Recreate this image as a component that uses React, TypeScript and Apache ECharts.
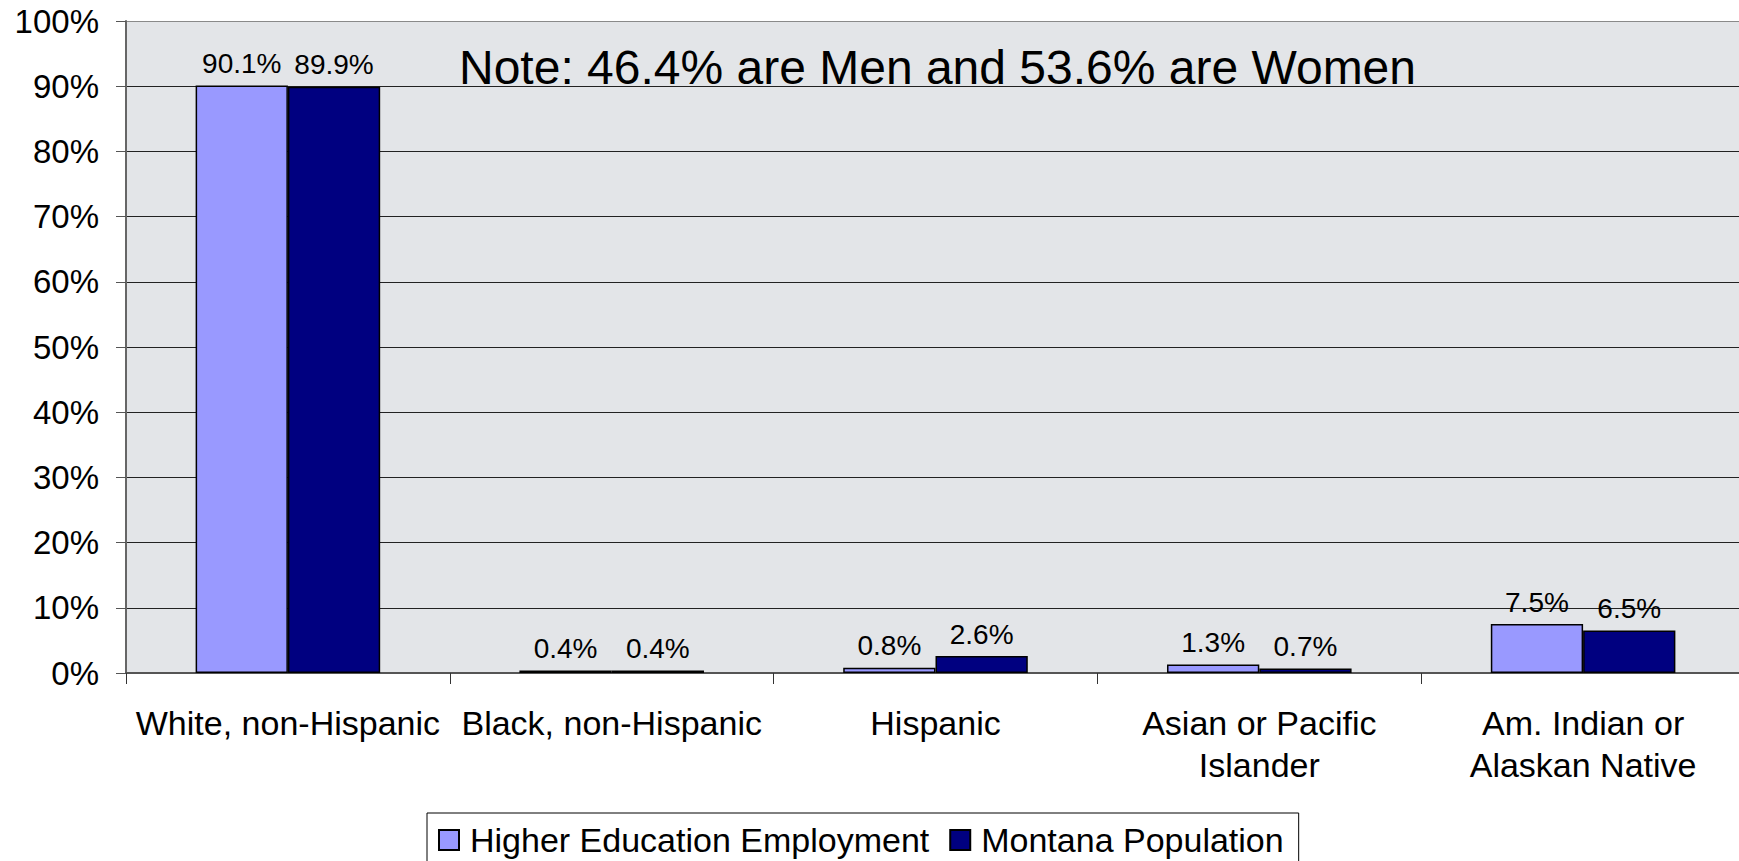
import React, { useEffect, useRef } from "react";
import * as echarts from "echarts";

const categories = [
  "White, non-Hispanic",
  "Black, non-Hispanic",
  "Hispanic",
  "Asian or Pacific\nIslander",
  "Am. Indian or\nAlaskan Native",
];
const seriesNames = ["Higher Education Employment", "Montana Population"];
const higherEd = [90.1, 0.4, 0.8, 1.3, 7.5];
const montana = [89.9, 0.4, 2.6, 0.7, 6.5];
const noteText = "Note: 46.4% are Men and 53.6% are Women";

const FONT = "'Liberation Sans', Arial, sans-serif";

export default function App() {
  const ref = useRef<HTMLDivElement>(null);
  useEffect(() => {
    if (!ref.current) return;
    const chart = echarts.init(ref.current, null, { renderer: "svg" });
    const splitColors = [] as string[];
    for (let i = 0; i < 10; i++) splitColors.push("#222222");
    splitColors.push("#8a8a8a");
    const label = {
      show: true,
      position: "top",
      distance: 8,
      color: "#000",
      fontSize: 28,
      fontFamily: FONT,
      formatter: (p: any) => p.value.toFixed(1) + "%",
    };
    chart.setOption({
      animation: false,
      backgroundColor: "#ffffff",
      textStyle: { fontFamily: FONT },
      grid: {
        left: 126,
        right: 15,
        top: 21,
        bottom: 188,
        show: true,
        backgroundColor: "#e3e5e8",
        borderWidth: 0,
      },
      xAxis: {
        type: "category",
        data: categories,
        axisLine: { show: true, lineStyle: { color: "#555", width: 2 } },
        axisTick: { show: true, length: 11, lineStyle: { color: "#333", width: 1 } },
        axisLabel: {
          color: "#000",
          fontSize: 34,
          fontFamily: FONT,
          lineHeight: 42,
          margin: 29,
          interval: 0,
        },
      },
      yAxis: {
        type: "value",
        min: 0,
        max: 100,
        interval: 10,
        axisLine: { show: true, lineStyle: { color: "#666", width: 2 } },
        axisTick: { show: true, inside: false, length: 10, lineStyle: { color: "#555", width: 1 } },
        axisLabel: {
          color: "#000",
          fontSize: 33,
          fontFamily: FONT,
          margin: 27,
          formatter: "{value}%",
        },
        splitLine: { show: true, lineStyle: { color: splitColors, width: 1 } },
      },
      legend: {
        left: 427,
        top: 813,
        orient: "horizontal",
        padding: [7, 15, 7, 11],
        borderColor: "#000",
        borderWidth: 1,
        itemWidth: 20,
        itemHeight: 20,
        itemGap: 20,
        icon: "rect",
        data: seriesNames,
        textStyle: {
          color: "#000",
          fontSize: 34,
          fontFamily: FONT,
          lineHeight: 40,
          padding: [0, 0, 0, 6],
        },
      },
      graphic: [
        {
          type: "text",
          left: 459,
          top: 43,
          style: {
            text: noteText,
            fill: "#000",
            font: "48px " + FONT,
          },
          z: 100,
        },
      ],
      series: [
        {
          name: seriesNames[0],
          type: "bar",
          data: higherEd,
          barGap: "0%",
          barCategoryGap: "43%",
          itemStyle: { color: "#9999ff", borderColor: "#000", borderWidth: 1.5 },
          label,
        },
        {
          name: seriesNames[1],
          type: "bar",
          data: montana,
          barGap: "0%",
          barCategoryGap: "43%",
          itemStyle: { color: "#000080", borderColor: "#000", borderWidth: 1.5 },
          label,
        },
      ],
    });
    return () => chart.dispose();
  }, []);
  return (
    <div
      style={{
        position: "fixed",
        left: 0,
        top: 0,
        width: 1739,
        height: 861,
        overflow: "hidden",
        background: "#fff",
      }}
    >
      <div ref={ref} style={{ width: 1760, height: 861 }} />
    </div>
  );
}
